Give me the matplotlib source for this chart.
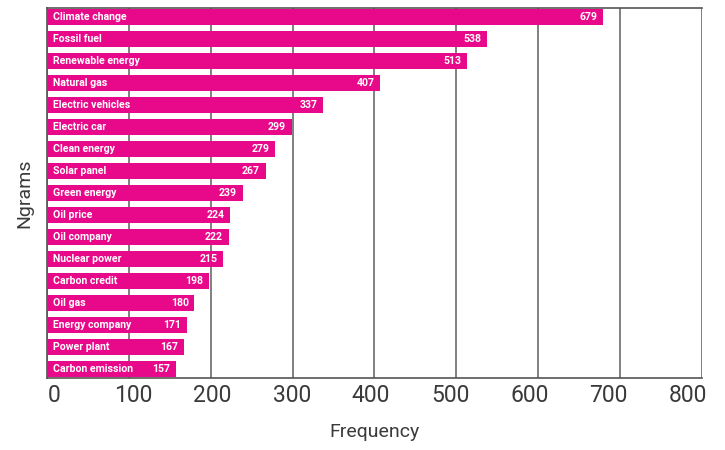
import matplotlib.pyplot as plt
import matplotlib.transforms as mtransforms

plt.rcParams['font.family'] = ['Roboto', 'DejaVu Sans']

ngrams = ["Climate change", "Fossil fuel", "Renewable energy", "Natural gas",
          "Electric vehicles", "Electric car", "Clean energy", "Solar panel",
          "Green energy", "Oil price", "Oil company", "Nuclear power",
          "Carbon credit", "Oil gas", "Energy company", "Power plant",
          "Carbon emission"]
frequency = [679, 538, 513, 407, 337, 299, 279, 267, 239, 224, 222, 215,
             198, 180, 171, 167, 157]
xticks = [0, 100, 200, 300, 400, 500, 600, 700, 800]

fig, ax = plt.subplots(figsize=(7.25, 4.5), dpi=100)
fig.subplots_adjust(left=0.065, right=0.968, top=0.982, bottom=0.16)

pink = '#e8098b'
pos = list(range(len(ngrams)))
ax.barh(pos, frequency, height=0.74, color=pink, zorder=3)

for i, (name, v) in enumerate(zip(ngrams, frequency)):
    ax.text(7, i, name, color='white', fontsize=7.6, fontweight='bold',
            va='center', ha='left', zorder=4)
    ax.text(v - 7, i, str(v), color='white', fontsize=7.6, fontweight='bold',
            va='center', ha='right', zorder=4)

ax.set_ylim(len(ngrams) - 0.6, -0.4)
ax.set_xlim(0, 800)
ax.set_xticks(xticks)
ax.set_xticklabels([str(t) for t in xticks], fontsize=16.5, color='#3a3a3a')
ax.set_yticks([])
ax.tick_params(axis='x', length=0, pad=4)

# labels in the original drift slightly left of their gridlines
for t, lab in zip(xticks, ax.get_xticklabels()):
    dx = (5 - t * 0.019) / 72
    lab.set_transform(lab.get_transform() +
                      mtransforms.ScaledTranslation(dx, 0, fig.dpi_scale_trans))

ax.grid(axis='x', color='#808080', linewidth=1.4, zorder=1)
for s in ['left', 'bottom', 'top']:
    ax.spines[s].set_color('#555555')
    ax.spines[s].set_linewidth(1.2)
ax.spines['right'].set_visible(False)

ax.set_xlabel("Frequency", fontsize=14, color='#3a3a3a', labelpad=12)
ax.set_ylabel("Ngrams", fontsize=14, color='#3a3a3a', labelpad=10)

plt.savefig("out.png", dpi=100)
